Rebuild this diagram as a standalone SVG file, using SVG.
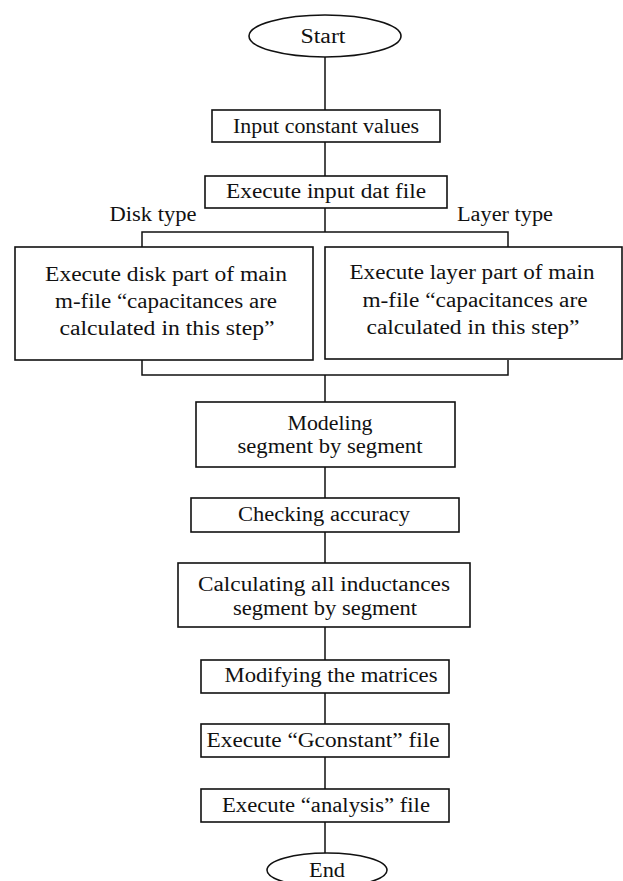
<svg xmlns="http://www.w3.org/2000/svg" width="623" height="881" viewBox="0 0 623 881">
<style>
.b{fill:#fff;stroke:#111;stroke-width:1.6}
.c{fill:none;stroke:#111;stroke-width:1.5}
text{font-family:"Liberation Serif","Times New Roman",serif;font-size:20px;fill:#111;text-anchor:middle}
</style>
<rect width="623" height="881" fill="#fff"/>
<g id="connectors">
<path class="c" d="M325,57V110M325,142V176M325,208V232M142,247V232H508V247M142,360V375H508V360M325,375V402M325,467V498M325,532V563M325,627V660M325,693V724M325,757V789M325,822V853"/>
</g>
<g id="start"><ellipse class="b" cx="325" cy="36" rx="76" ry="21"/><text x="323" y="43" textLength="45" lengthAdjust="spacingAndGlyphs">Start</text></g>
<g id="input"><rect class="b" x="212" y="110" width="228" height="32"/><text x="326" y="133" textLength="186" lengthAdjust="spacingAndGlyphs">Input constant values</text></g>
<g id="execdat"><rect class="b" x="205" y="176" width="242" height="32"/><text x="326" y="198" textLength="200" lengthAdjust="spacingAndGlyphs">Execute input dat file</text></g>
<g id="disklabel"><text x="153" y="221" textLength="87" lengthAdjust="spacingAndGlyphs">Disk type</text></g>
<g id="layerlabel"><text x="505" y="221" textLength="96" lengthAdjust="spacingAndGlyphs">Layer type</text></g>
<g id="disk"><rect class="b" x="15" y="247" width="298" height="113"/>
<text x="166" y="281" textLength="242" lengthAdjust="spacingAndGlyphs">Execute disk part of main</text>
<text x="166" y="308" textLength="222" lengthAdjust="spacingAndGlyphs">m-file “capacitances are</text>
<text x="167" y="335" textLength="215" lengthAdjust="spacingAndGlyphs">calculated in this step”</text></g>
<g id="layer"><rect class="b" x="325" y="247" width="297" height="112"/>
<text x="472" y="279" textLength="245" lengthAdjust="spacingAndGlyphs">Execute layer part of main</text>
<text x="475" y="307" textLength="225" lengthAdjust="spacingAndGlyphs">m-file  “capacitances are</text>
<text x="473" y="334" textLength="213" lengthAdjust="spacingAndGlyphs">calculated in this step”</text></g>
<g id="model"><rect class="b" x="196" y="402" width="259" height="65"/>
<text x="330" y="430" textLength="85" lengthAdjust="spacingAndGlyphs">Modeling</text>
<text x="330" y="453" textLength="185" lengthAdjust="spacingAndGlyphs">segment by segment</text></g>
<g id="check"><rect class="b" x="191" y="498" width="268" height="34"/><text x="324" y="521" textLength="172" lengthAdjust="spacingAndGlyphs">Checking accuracy</text></g>
<g id="calc"><rect class="b" x="178" y="563" width="292" height="64"/>
<text x="324" y="591" textLength="252" lengthAdjust="spacingAndGlyphs">Calculating all inductances</text>
<text x="325" y="615" textLength="184" lengthAdjust="spacingAndGlyphs">segment by segment</text></g>
<g id="modify"><rect class="b" x="201" y="660" width="248" height="33"/><text x="331" y="682" textLength="213" lengthAdjust="spacingAndGlyphs">Modifying the matrices</text></g>
<g id="gconst"><rect class="b" x="201" y="724" width="248" height="33"/><text x="323" y="747" textLength="233" lengthAdjust="spacingAndGlyphs">Execute “Gconstant” file</text></g>
<g id="analysis"><rect class="b" x="201" y="789" width="248" height="33"/><text x="326" y="812" textLength="208" lengthAdjust="spacingAndGlyphs">Execute “analysis” file</text></g>
<g id="end"><ellipse class="b" cx="327" cy="870" rx="60" ry="17"/><text x="327" y="877" textLength="36" lengthAdjust="spacingAndGlyphs">End</text></g>
</svg>
